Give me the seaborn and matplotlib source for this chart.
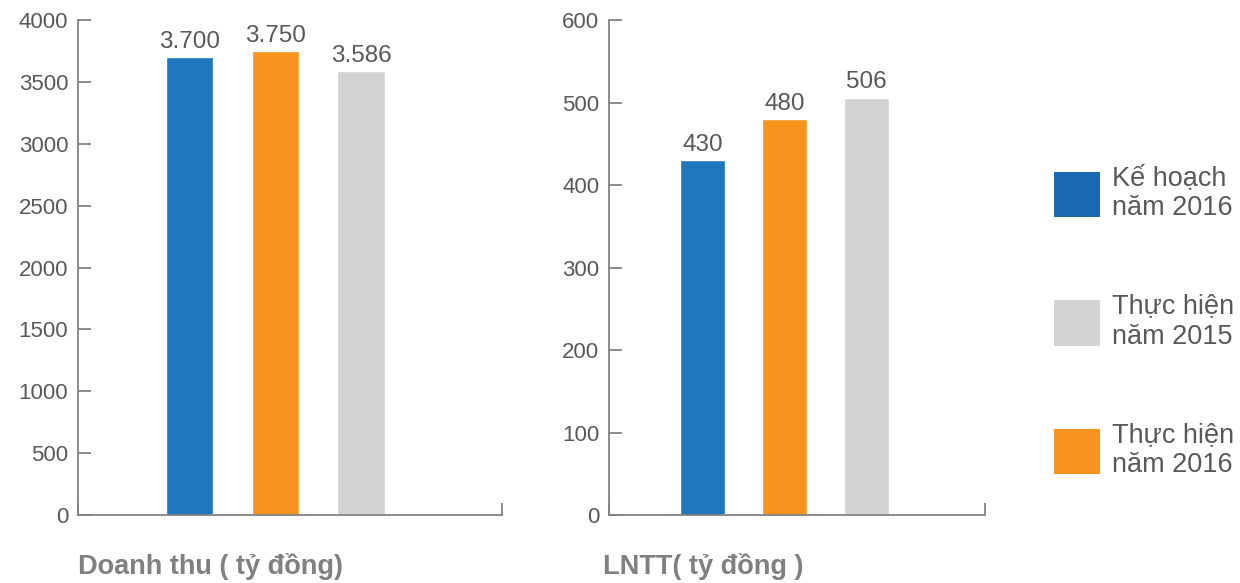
import matplotlib
matplotlib.use("Agg")
import matplotlib.pyplot as plt
import seaborn as sns
from matplotlib.patches import Patch

# Data
series = ["Kế hoạch năm 2016", "Thực hiện năm 2016", "Thực hiện năm 2015"]
doanh_thu = [3700, 3750, 3586]
lntt = [430, 480, 506]
legend_order = ["Kế hoạch\nnăm 2016", "Thực hiện\nnăm 2015", "Thực hiện\nnăm 2016"]

colors = {"Kế hoạch năm 2016": "#2077BD",
          "Thực hiện năm 2016": "#F7941E",
          "Thực hiện năm 2015": "#D1D3D4"}
legend_colors = ["#1868B2", "#D1D3D4", "#F7941E"]

sns.set_style("white")
plt.rcParams['font.family'] = ['Liberation Sans', 'DejaVu Sans']

tick_color = "#58595B"
spine_color = "#808285"
title_color = "#808080"

fig = plt.figure(figsize=(12.4, 5.83), dpi=100)
ax1 = fig.add_axes([0.0629, 0.1166, 0.342, 0.849])
ax2 = fig.add_axes([0.4911, 0.1166, 0.3032, 0.849])


def draw(ax, values, ymax, step, xlim, title):
    sns.barplot(x=series, y=values, hue=series, palette=colors, ax=ax,
                width=0.55, legend=False, saturation=1)
    ax.set_ylim(0, ymax)
    ax.set_yticks(range(0, ymax + 1, step))
    ax.set_xlim(*xlim)
    ax.set_xticks(list(xlim))
    ax.set_xticklabels(["", ""])
    ax.set_xlabel("")
    ax.set_ylabel("")
    sns.despine(ax=ax)
    for s in ["left", "bottom"]:
        ax.spines[s].set_color(spine_color)
        ax.spines[s].set_linewidth(1.3)
    ax.tick_params(axis="y", direction="in", length=9, width=1.3,
                   color=spine_color, labelcolor=tick_color,
                   labelsize=16, pad=7, left=True)
    ax.tick_params(axis="x", direction="in", length=9, width=1.3,
                   color=spine_color, bottom=True)
    for cont, v in zip(ax.containers, values):
        ax.bar_label(cont, labels=[f"{v:,}".replace(",", ".")],
                     padding=3, fontsize=17.5, color=tick_color)
    ax.text(0, -0.105, title, transform=ax.transAxes, ha="left",
            va="center", fontsize=19.5, fontweight="bold", color=title_color)


draw(ax1, doanh_thu, 4000, 500, (-1.297, 3.645), "Doanh thu ( tỷ đồng)")
draw(ax2, lntt, 600, 100, (-1.14, 3.445), "LNTT( tỷ đồng )")
ax2.texts[-1].set_x(-0.016)

handles = [Patch(facecolor=c, edgecolor="none") for c in legend_colors]
fig.legend(handles, legend_order, loc="upper left",
           bbox_to_anchor=(0.85, 0.7166), frameon=False,
           fontsize=19.5, handlelength=1.7, handleheight=2.2,
           handletextpad=0.44, labelspacing=2.67, labelcolor=tick_color,
           borderpad=0, borderaxespad=0)

plt.savefig("out.png", dpi=100)
